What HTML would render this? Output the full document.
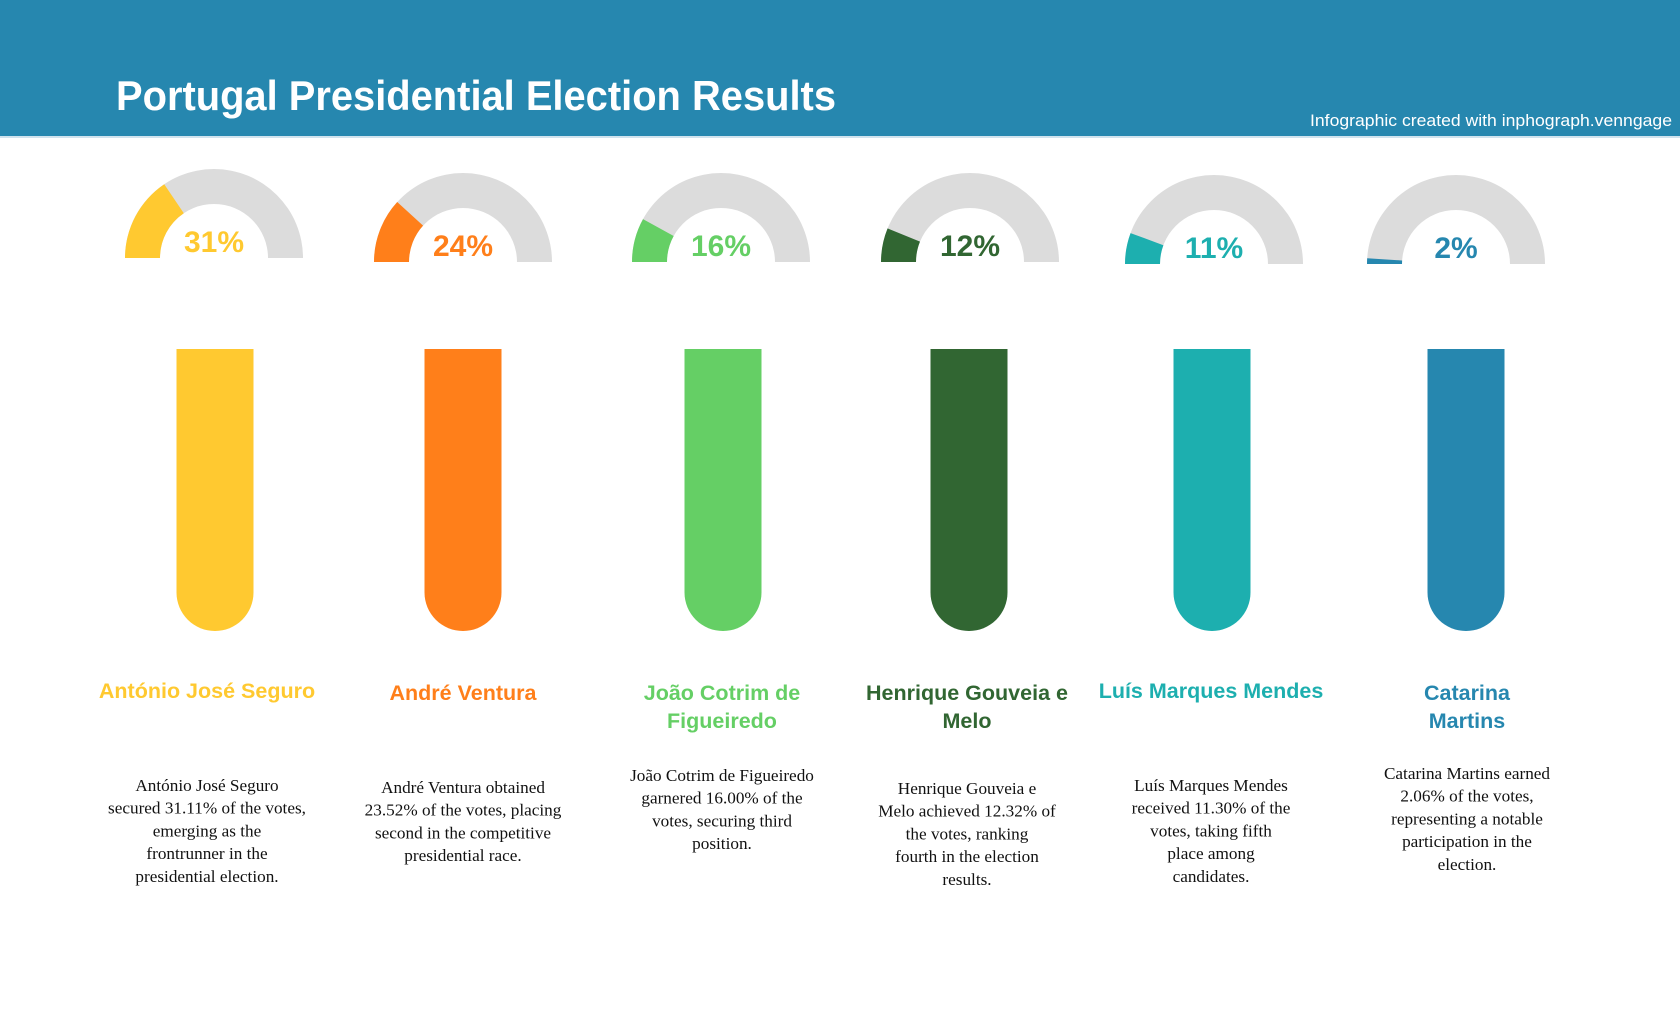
<!DOCTYPE html>
<html><head><meta charset="utf-8"><style>
body{margin:0;width:1680px;height:1020px;background:#fff;overflow:hidden;font-family:"Liberation Sans",sans-serif}
</style></head><body>
<svg id="svg" width="1680" height="1020" xmlns="http://www.w3.org/2000/svg">
<rect x="0" y="0" width="1680" height="136" fill="#2687AF"/>
<rect x="0" y="136" width="1680" height="2" fill="#cfe3ee"/>
<text x="116" y="110" font-size="42" font-weight="bold" fill="#fff" textLength="720" lengthAdjust="spacingAndGlyphs" font-family="Liberation Sans, sans-serif">Portugal Presidential Election Results</text>
<text x="1672" y="126" font-size="17" fill="#fff" text-anchor="end" textLength="362" lengthAdjust="spacingAndGlyphs" font-family="Liberation Sans, sans-serif">Infographic created with inphograph.venngage</text>
</svg>
<script>
const names=[["António José Seguro"],["André Ventura"],["João Cotrim de","Figueiredo"],["Henrique Gouveia e","Melo"],["Luís Marques Mendes"],["Catarina","Martins"]];
const values=[31.11,23.52,16.00,12.32,11.30,2.06];
const labels=["31%","24%","16%","12%","11%","2%"];
const colors=["#FFC930","#FF7F1A","#65CF65","#316632","#1DAFAF","#2687AF"];
const descs=[["António José Seguro","secured 31.11% of the votes,","emerging as the","frontrunner in the","presidential election."],
["André Ventura obtained","23.52% of the votes, placing","second in the competitive","presidential race."],
["João Cotrim de Figueiredo","garnered 16.00% of the","votes, securing third","position."],
["Henrique Gouveia e","Melo achieved 12.32% of","the votes, ranking","fourth in the election","results."],
["Luís Marques Mendes","received 11.30% of the","votes, taking fifth","place among","candidates."],
["Catarina Martins earned","2.06% of the votes,","representing a notable","participation in the","election."]];
const svg=document.getElementById('svg');const NS="http://www.w3.org/2000/svg";
const gx=[214,463,721,970,1214,1456],gy=[258,262,262,262,264,264];
const bx=[215,463,723,969,1212,1466];
const nx=[207,463,722,967,1211,1467],ny=[698,700,700,700,698,700];
const dy=[791,793,781,794,791,779];
const R=89,r=54;
function mk(t,a,p){const e=document.createElementNS(NS,t);for(const k in a)e.setAttribute(k,a[k]);(p||svg).appendChild(e);return e;}
function arc(cx,cy,a0,a1){const p=(rad,a)=>[cx-rad*Math.cos(a),cy-rad*Math.sin(a)];
const [x1,y1]=p(R,a0),[x2,y2]=p(R,a1),[x3,y3]=p(r,a1),[x4,y4]=p(r,a0);
return `M${x1},${y1} A${R},${R} 0 0 1 ${x2},${y2} L${x3},${y3} A${r},${r} 0 0 0 ${x4},${y4} Z`;}
values.forEach((v,i)=>{
 const g=mk('g',{});
 
 
 const bg=mk('path',{d:arc(gx[i],gy[i],0,Math.PI),fill:'#DCDCDC'},g);
 
 
 const fg=mk('path',{d:arc(gx[i],gy[i],0,Math.PI*v/100),fill:colors[i]},g);
 
 
 const t=mk('text',{x:gx[i],y:gy[i]-6,'font-size':30,'font-weight':'bold',fill:colors[i],'text-anchor':'middle'},g);
 t.textContent=labels[i];
 
 
 const w=77,top=349,bot=631;
 const b=mk('path',{d:`M${bx[i]-w/2},${top} H${bx[i]+w/2} V${bot-w/2} A${w/2},${w/2} 0 0 1 ${bx[i]-w/2},${bot-w/2} Z`,fill:colors[i]});
 
 
 const n=mk('text',{x:nx[i],y:ny[i],'font-size':21.5,'font-weight':'bold',fill:colors[i],'text-anchor':'middle'});
 
 
 names[i].forEach((l,j)=>{const s=mk('tspan',{x:nx[i],dy:j?28:0},n);s.textContent=l;});
 const d=mk('text',{x:nx[i],y:dy[i],'font-size':17.2,fill:'#111','text-anchor':'middle','font-family':'Liberation Serif, serif'});
 
 
 descs[i].forEach((l,j)=>{const s=mk('tspan',{x:nx[i],dy:j?22.7:0},d);s.textContent=l;});
});
</script>
</body></html>
